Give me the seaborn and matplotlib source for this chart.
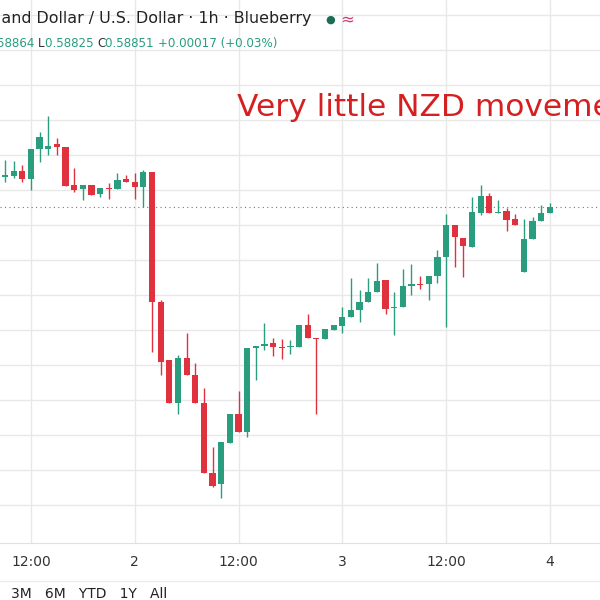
import matplotlib
matplotlib.use('Agg')
import matplotlib.pyplot as plt
import seaborn as sns
import numpy as np
import pandas as pd

# hourly NZD/USD candles
opens = [.58894, .58895, .58903, .58891, .58934, .58934, .58941, .58937, .58882, .58877, .58882, .58870, .58878, .58877, .58891, .58887,
         .58880, .58901, .58715, .58632, .58571, .58635, .58611, .58571, .58471, .58456, .58514, .58556, .58529, .58649, .58652, .58657,
         .58651, .58651, .58651, .58682, .58664, .58662, .58675, .58681, .58694, .58704, .58715, .58729, .58747, .58707, .58708, .58738,
         .58741, .58741, .58752, .58780, .58825, .58807, .58794, .58842, .58867, .58842, .58845, .58834, .58758, .58805, .58831, .58842]
highs = [.58918, .58917, .58911, .58934, .58958, .58981, .58950, .58937, .58907, .58882, .58882, .58878, .58885, .58900, .58897, .58900,
         .58904, .58901, .58718, .58632, .58639, .58671, .58628, .58592, .58508, .58515, .58556, .58588, .58649, .58652, .58685, .58664,
         .58662, .58661, .58682, .58698, .58664, .58677, .58682, .58708, .58749, .58732, .58749, .58771, .58747, .58729, .58762, .58770,
         .58752, .58752, .58790, .58841, .58825, .58807, .58865, .58882, .58871, .58861, .58850, .58841, .58834, .58837, .58854, .58857]
lows = [.58887, .58893, .58887, .58875, .58915, .58925, .58925, .58881, .58872, .58861, .58868, .58865, .58862, .58877, .58887, .58862,
        .58851, .58644, .58611, .58571, .58556, .58611, .58571, .58471, .58451, .58436, .58514, .58529, .58522, .58604, .58647, .58638,
        .58634, .58641, .58651, .58664, .58556, .58662, .58675, .58671, .58694, .58687, .58715, .58729, .58698, .58668, .58708, .58725,
        .58734, .58718, .58742, .58679, .58765, .58751, .58794, .58840, .58842, .58842, .58817, .58825, .58758, .58805, .58831, .58842]
closes = [.58897, .58903, .58891, .58934, .58951, .58938, .58937, .58881, .58875, .58882, .58868, .58878, .58877, .58890, .58887, .58880,
          .58901, .58715, .58629, .58571, .58635, .58611, .58571, .58471, .58453, .58515, .58556, .58529, .58649, .58652, .58655, .58651,
          .58650, .58652, .58682, .58664, .58662, .58677, .58682, .58694, .58704, .58715, .58729, .58745, .58705, .58708, .58738, .58741,
          .58740, .58752, .58780, .58825, .58808, .58795, .58844, .58867, .58842, .58844, .58832, .58825, .58805, .58831, .58842, .58851]

tick_pos = [3, 15, 27, 39, 51, 63]
tick_labels = ['12:00', '2', '12:00', '3', '12:00', '4']
last_close = 0.58851

UP = '#2a9d7f'
DOWN = '#e0323e'

df = pd.DataFrame({'o': opens, 'h': highs, 'l': lows, 'c': closes})
df['i'] = np.arange(len(df))
df['color'] = np.where(df['c'] >= df['o'], UP, DOWN)

sns.set_style('white')
plt.rcParams['font.family'] = ['DejaVu Sans']

fig = plt.figure(figsize=(6, 6), dpi=100)
ax = fig.add_axes([0, 0.095, 1, 0.905])

# wicks and bodies
ax.vlines(df['i'], df['l'], df['h'], colors=df['color'], linewidth=1, zorder=3)
body = (df['c'] - df['o']).abs().clip(lower=0.000012)
ax.bar(df['i'], body, bottom=np.minimum(df['o'], df['c']), width=0.72,
       color=df['color'], edgecolor='none', zorder=4)

ax.axhline(last_close, color='#777777', linestyle=(0, (1, 3)), linewidth=0.8, zorder=2)

ax.set_xlim(-0.58, 68.8)
ax.set_ylim(0.58371, 0.59147)
ax.set_yticks(np.arange(0.58425, 0.5915, 0.0005))
ax.set_xticks(tick_pos)
ax.set_xticklabels(tick_labels)
ax.grid(True, color='#e8e8e8', linewidth=1)
ax.tick_params(axis='x', length=0, pad=9, labelsize=10, colors='#333333')
ax.tick_params(axis='y', left=False, labelleft=False)
for s in ax.spines.values():
    s.set_visible(False)
ax.spines['bottom'].set_visible(True)
ax.spines['bottom'].set_color('#e0e0e0')

# header
fig.text(-0.005, 0.962, 'land Dollar / U.S. Dollar · 1h · Blueberry', fontsize=11.4, color='#222222')
fig.text(0.543, 0.962, '●', fontsize=8, color='#1e6b55')
fig.text(0.567, 0.960, '≈', fontsize=12, color='#d0407a')

# OHLC line: each piece placed after the measured width of everything before it
parts = [('58864 ', UP), ('L', '#333333'), ('0.58825 ', UP), ('C', '#333333'),
         ('0.58851 ', UP), ('+0.00017 (+0.03%)', UP)]
renderer = fig.canvas.get_renderer()
prefix = ''
for txt, col in parts:
    x = -0.005
    if prefix:
        probe = fig.text(0, 0, prefix + '|', fontsize=8.6)
        bar = fig.text(0, 0, '|', fontsize=8.6)
        x += (probe.get_window_extent(renderer).width - bar.get_window_extent(renderer).width) / 600
        probe.remove()
        bar.remove()
    fig.text(x, 0.922, txt, fontsize=8.6, color=col)
    prefix += txt

fig.text(0.395, 0.807, 'Very little NZD movement', fontsize=22.5, color='#d42020')

fig.add_artist(plt.Line2D([0, 1], [0.031, 0.031], transform=fig.transFigure, color='#ececec', linewidth=1))
fig.text(0.018, 0.003, '3M   6M   YTD   1Y   All', fontsize=10, color='#222222')

fig.savefig('out.png', dpi=100)
